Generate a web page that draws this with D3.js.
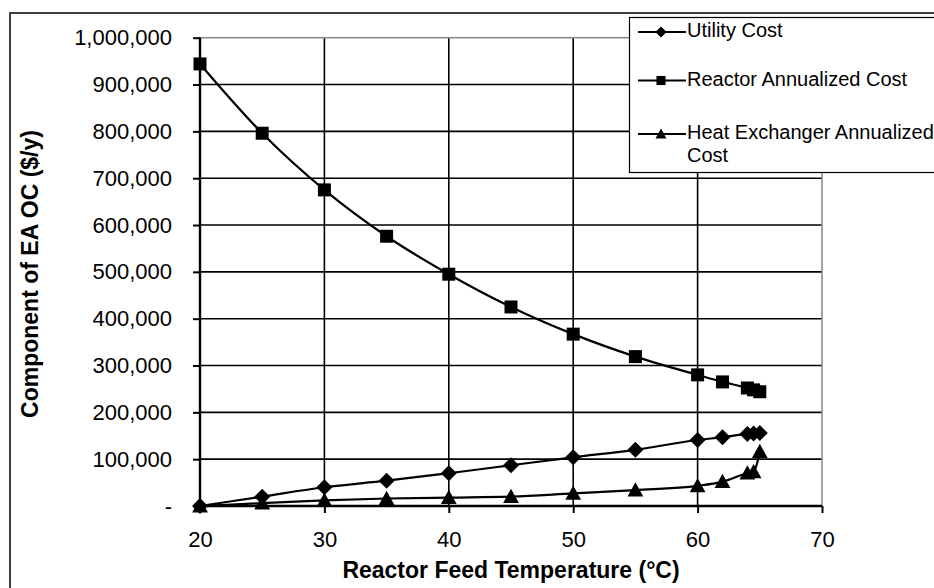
<!DOCTYPE html>
<html lang="en">
<head>
<meta charset="UTF-8">
<title>Component of EAOC vs Reactor Feed Temperature</title>
<script src="https://d3js.org/d3.v7.min.js"></script>
<style>
  body { margin: 0; padding: 0; background: #fff; }
  svg text { font-family: Arial, "Liberation Sans", sans-serif; fill: #000; }
</style>
</head>
<body>
<div id="chart"></div>
<script>
// data
const temps   = [20, 25, 30, 35, 40, 45, 50, 55, 60, 62, 64, 64.5, 65];
const utility = [0, 20000, 40000, 54000, 70000, 87000, 104000, 120000, 141000, 147000, 154000, 155000, 156000];
const reactor = [944000, 796000, 675000, 576000, 495000, 425000, 367000, 319000, 280000, 265000, 252000, 248000, 244000];
const heatEx  = [0, 6000, 12000, 16000, 18000, 20000, 27000, 34000, 43000, 52000, 70000, 73000, 116000];

const seriesNames = ["Utility Cost", "Reactor Annualized Cost", "Heat Exchanger Annualized Cost"];
const xTicks = [20, 30, 40, 50, 60, 70];
const yTicks = [0, 100000, 200000, 300000, 400000, 500000, 600000, 700000, 800000, 900000, 1000000];

const W = 934, H = 588;
const plot = {left: 200, right: 822, top: 37.7, bottom: 506};

const svg = d3.select("#chart").append("svg")
    .attr("width", W)
    .attr("height", H);

// outer chart border (runs off the right and bottom edges)
svg.append("rect")
    .attr("x", 10).attr("y", 13)
    .attr("width", 960).attr("height", 620)
    .attr("fill", "#fff")
    .attr("stroke", "#404040")
    .attr("stroke-width", 2);

const x = d3.scaleLinear().domain([20, 70]).range([plot.left, plot.right]);
const y = d3.scaleLinear().domain([0, 1000000]).range([plot.bottom, plot.top]);

// gridlines
svg.append("g")
  .selectAll("line")
  .data(yTicks.filter(d => d > 0 && d < 1000000))
  .join("line")
    .attr("x1", plot.left).attr("x2", plot.right)
    .attr("y1", d => y(d)).attr("y2", d => y(d))
    .attr("stroke", "#000").attr("stroke-width", 1.6);

svg.append("g")
  .selectAll("line")
  .data(xTicks.filter(d => d > 20 && d < 70))
  .join("line")
    .attr("x1", d => x(d)).attr("x2", d => x(d))
    .attr("y1", plot.top).attr("y2", plot.bottom)
    .attr("stroke", "#000").attr("stroke-width", 1.6);

// plot area border (grey)
svg.append("rect")
    .attr("x", plot.left).attr("y", plot.top)
    .attr("width", plot.right - plot.left).attr("height", plot.bottom - plot.top)
    .attr("fill", "none")
    .attr("stroke", "#8c8c8c").attr("stroke-width", 1.6);

// axes
const yAxis = svg.append("g")
    .attr("transform", `translate(${plot.left},0)`)
    .call(d3.axisLeft(y).tickValues(yTicks).tickSize(7).tickPadding(21)
      .tickFormat(d => d === 0 ? "-" : d3.format(",")(d)));

const xAxis = svg.append("g")
    .attr("transform", `translate(0,${plot.bottom})`)
    .call(d3.axisBottom(x).tickValues(xTicks).tickSize(7).tickPadding(18));

[yAxis, xAxis].forEach(g => {
  g.select(".domain").remove();
  g.selectAll(".tick line").attr("stroke", "#000").attr("stroke-width", 2);
  g.selectAll(".tick text").attr("font-size", 22).attr("fill", "#000")
    .style("font-family", 'Arial, "Liberation Sans", sans-serif');
});

// axis lines
svg.append("line")
    .attr("x1", plot.left).attr("x2", plot.left)
    .attr("y1", plot.top).attr("y2", plot.bottom)
    .attr("stroke", "#000").attr("stroke-width", 2.4);
svg.append("line")
    .attr("x1", plot.left).attr("x2", plot.right)
    .attr("y1", plot.bottom).attr("y2", plot.bottom)
    .attr("stroke", "#000").attr("stroke-width", 2.4);

// axis titles
svg.append("text")
    .attr("x", 511).attr("y", 578)
    .attr("text-anchor", "middle")
    .attr("font-size", 23).attr("font-weight", "bold")
    .text("Reactor Feed Temperature (°C)");

svg.append("text")
    .attr("transform", "translate(38,274) rotate(-90)")
    .attr("text-anchor", "middle")
    .attr("font-size", 23).attr("font-weight", "bold")
    .text("Component of EA OC ($/y)");

// marker shapes
const markers = {
  diamond: r => `M0,${-r}L${r},0L0,${r}L${-r},0Z`,
  square: r => `M${-r},${-r}H${r}V${r}H${-r}Z`,
  triangle: r => `M0,${-r * 1.05}L${r * 1.05},${r * 0.85}L${-r * 1.05},${r * 0.85}Z`
};

const series = [
  {name: seriesNames[0], values: utility, shape: "diamond", r: 8},
  {name: seriesNames[1], values: reactor, shape: "square", r: 6.5},
  {name: seriesNames[2], values: heatEx, shape: "triangle", r: 7.5}
];

const line = d3.line()
    .x(d => x(d[0]))
    .y(d => y(d[1]))
    .curve(d3.curveMonotoneX);

series.forEach(s => {
  const pts = temps.map((t, i) => [t, s.values[i]]);
  svg.append("path")
      .datum(pts)
      .attr("d", line)
      .attr("fill", "none")
      .attr("stroke", "#000")
      .attr("stroke-width", 2.2);
  svg.append("g")
    .selectAll("path")
    .data(pts)
    .join("path")
      .attr("transform", d => `translate(${x(d[0])},${y(d[1])})`)
      .attr("d", markers[s.shape](s.r))
      .attr("fill", "#000");
});

// legend
const legend = svg.append("g");
legend.append("rect")
    .attr("x", 629.5).attr("y", 17.5)
    .attr("width", 400).attr("height", 155)
    .attr("fill", "#fff")
    .attr("stroke", "#000").attr("stroke-width", 1.2);

const legendY = [32, 80.5, 134];
const textMax = 256;

series.forEach((s, i) => {
  const gy = legendY[i];
  legend.append("line")
      .attr("x1", 638).attr("x2", 686)
      .attr("y1", gy).attr("y2", gy)
      .attr("stroke", "#000").attr("stroke-width", 2);
  legend.append("path")
      .attr("transform", `translate(661,${gy})`)
      .attr("d", markers[s.shape](s.r * 0.7))
      .attr("fill", "#000");

  const t = legend.append("text")
      .attr("x", 687).attr("y", gy + 5)
      .attr("font-size", 20);
  // wrap words to fit the legend width
  const words = s.name.split(" ");
  let lineWords = [];
  let tspan = t.append("tspan").attr("x", 687).attr("dy", 0);
  words.forEach(w => {
    lineWords.push(w);
    tspan.text(lineWords.join(" "));
    if (tspan.node().getComputedTextLength() > textMax && lineWords.length > 1) {
      lineWords.pop();
      tspan.text(lineWords.join(" "));
      lineWords = [w];
      tspan = t.append("tspan").attr("x", 687).attr("dy", 23.4).text(w);
    }
  });
});
</script>
</body>
</html>
